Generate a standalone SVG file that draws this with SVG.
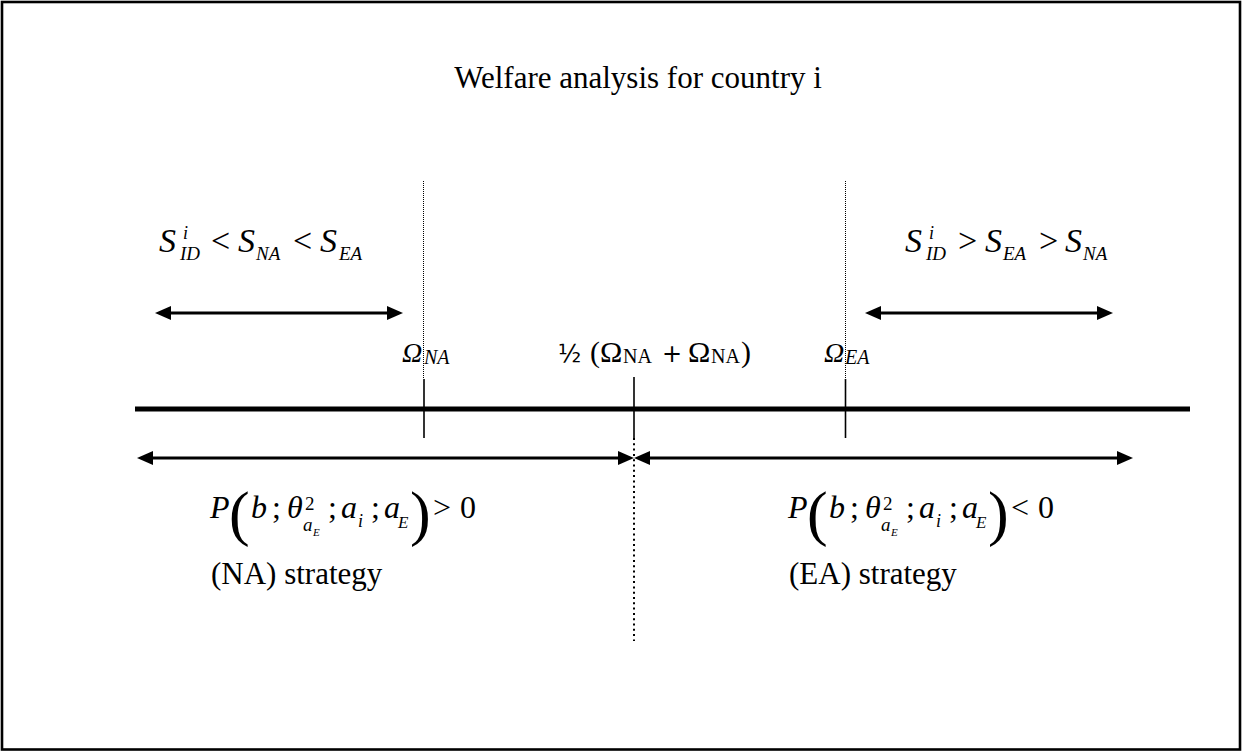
<svg xmlns="http://www.w3.org/2000/svg" width="1242" height="751" viewBox="0 0 1242 751">
<style>
text{font-family:"Liberation Serif","Times New Roman",serif;fill:#000}
.it{font-style:italic}
.m{font-size:34px}
.b{font-size:32px}
.s{font-size:19px}
.par{font-size:62px}
.sans{font-family:"DejaVu Sans","Liberation Sans",sans-serif}
.arrow{stroke:#000;stroke-width:3;fill:none;marker-start:url(#ah);marker-end:url(#ah)}
.tick{stroke:#000;stroke-width:1.6}
.dot{stroke:#000;stroke-width:1;stroke-dasharray:1 1}
</style>
<defs>
<marker id="ah" markerUnits="userSpaceOnUse" markerWidth="16" markerHeight="14" viewBox="0 0 16 14" refX="4" refY="7" orient="auto-start-reverse">
<path d="M0,0 L16,7 L0,14 z" fill="#000"/>
</marker>
</defs>
<rect x="2" y="2" width="1238" height="747.5" fill="#fff" stroke="#000" stroke-width="2.6"/>

<g id="title"><text x="638" y="88" font-size="31" text-anchor="middle">Welfare analysis for country i</text></g>

<g id="axis">
<line x1="135" y1="409" x2="1190" y2="409" stroke="#000" stroke-width="5"/>
<line class="tick" x1="424" y1="379" x2="424" y2="438"/>
<line class="tick" x1="634" y1="377" x2="634" y2="438"/>
<line class="tick" x1="845.5" y1="379" x2="845.5" y2="438"/>
</g>

<g id="connectors">
<line class="dot" x1="423.5" y1="181" x2="423.5" y2="379"/>
<line class="dot" x1="845.5" y1="181" x2="845.5" y2="379"/>
<line x1="634" y1="438" x2="634" y2="641" stroke="#000" stroke-width="2" stroke-dasharray="2 3.3"/>
<line class="arrow" x1="167" y1="313" x2="391" y2="313"/>
<line class="arrow" x1="877" y1="313" x2="1101" y2="313"/>
<line class="arrow" x1="149" y1="458" x2="622" y2="458"/>
<line class="arrow" x1="646" y1="458" x2="1121" y2="458"/>
</g>

<g id="cond-left">
<text class="it m" x="159" y="252">S</text>
<text class="it" font-size="18" x="183" y="239">i</text>
<text class="it s" x="180" y="260">ID</text>
<text class="m" x="211" y="252">&lt;</text>
<text class="it m" x="238" y="252">S</text>
<text class="it s" x="256" y="260">NA</text>
<text class="m" x="293" y="252">&lt;</text>
<text class="it m" x="320" y="252">S</text>
<text class="it s" x="339" y="260">EA</text>
</g>

<g id="cond-right">
<text class="it m" x="905" y="252">S</text>
<text class="it" font-size="18" x="929" y="239">i</text>
<text class="it s" x="926" y="260">ID</text>
<text class="m" x="958" y="252">&gt;</text>
<text class="it m" x="985" y="252">S</text>
<text class="it s" x="1003" y="260">EA</text>
<text class="m" x="1039" y="252">&gt;</text>
<text class="it m" x="1065" y="252">S</text>
<text class="it s" x="1083" y="260">NA</text>
</g>

<g id="omega-na">
<text class="it" font-size="28" x="402" y="362">Ω</text>
<text class="it" font-size="20" x="424" y="364">NA</text>
</g>

<g id="omega-mid">
<text class="sans" font-size="24" x="558" y="362">½</text>
<text font-size="30" x="590" y="362">(</text>
<text font-size="30" x="600" y="362">Ω</text>
<text font-size="20" x="623" y="363">NA</text>
<text class="sans" font-size="24" x="662" y="362">+</text>
<text font-size="30" x="688" y="362">Ω</text>
<text font-size="20" x="711" y="363">NA</text>
<text font-size="30" x="741" y="362">)</text>
</g>

<g id="omega-ea">
<text class="it" font-size="28" x="824" y="362">Ω</text>
<text class="it" font-size="20" x="845" y="364">EA</text>
</g>

<g id="p-left">
<text class="it b" x="210" y="518">P</text>
<text class="par" x="229" y="534">(</text>
<text class="it b" x="251" y="518">b</text>
<text class="b" x="272" y="518">;</text>
<text class="it b" x="287" y="518">θ</text>
<text font-size="19" x="305" y="510">2</text>
<text class="it" font-size="19" x="303" y="531">a</text>
<text class="it" font-size="11" x="313" y="536">E</text>
<text class="b" x="328" y="518">;</text>
<text class="it b" x="341" y="518">a</text>
<text class="it" font-size="18" x="358" y="527">i</text>
<text class="b" x="371" y="518">;</text>
<text class="it b" x="384" y="518">a</text>
<text class="it" font-size="17" x="398" y="528">E</text>
<text class="par" x="410" y="534">)</text>
<text class="b" x="433" y="518">&gt;</text>
<text class="b" x="460" y="518">0</text>
</g>

<g id="p-right">
<text class="it b" x="788" y="518">P</text>
<text class="par" x="807" y="534">(</text>
<text class="it b" x="829" y="518">b</text>
<text class="b" x="850" y="518">;</text>
<text class="it b" x="865" y="518">θ</text>
<text font-size="19" x="883" y="510">2</text>
<text class="it" font-size="19" x="881" y="531">a</text>
<text class="it" font-size="11" x="891" y="536">E</text>
<text class="b" x="906" y="518">;</text>
<text class="it b" x="919" y="518">a</text>
<text class="it" font-size="18" x="936" y="527">i</text>
<text class="b" x="949" y="518">;</text>
<text class="it b" x="962" y="518">a</text>
<text class="it" font-size="17" x="976" y="528">E</text>
<text class="par" x="988" y="534">)</text>
<text class="b" x="1011" y="518">&lt;</text>
<text class="b" x="1038" y="518">0</text>
</g>

<g id="strategy-na"><text font-size="31" x="211" y="584">(NA) strategy</text></g>
<g id="strategy-ea"><text font-size="31" x="789" y="584">(EA) strategy</text></g>
</svg>
